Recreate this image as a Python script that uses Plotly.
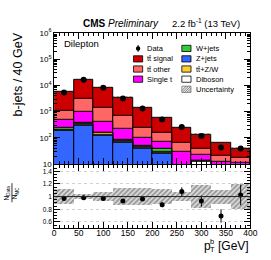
import numpy as np
import plotly.graph_objects as go

# ---------------- data ----------------
bin_centers = [20, 60, 100, 140, 180, 220, 260, 300, 340, 380]
bin_width = 40

zjets    = [178, 288, 124, 65, 39, 25, 4, 8, 3, 3]
diboson  = [10, 20, 8, 5, 3, 2, 1, 4, 1, 1]
ttv      = [5, 40, 22, 9, 5, 1, 2, 1, 1, 1]
wjets    = [45, 20, 6, 3, 2, 9, 1, 0.5, 0.5, 0.5]
single_t = [227, 592, 255, 136, 53, 34, 20, 9.5, 7, 6]
tt_other = [605, 1990, 995, 442, 148, 79, 34, 14, 7.5, 6]
tt_signal = [4430, 13550, 6890, 2740, 1100, 425, 178, 90, 42, 20.5]

data_counts = [5330, 16170, 8050, 3160, 1300, 500, 259, 118, 43, 39]
data_errors = [73, 127, 90, 56, 36, 22, 16, 11, 6.6, 6.2]
rel_unc = [0.12, 0.045, 0.075, 0.135, 0.135, 0.115, 0.075, 0.18, 0.11, 0.2]

# stack order bottom -> top
components = [
    ("Z+jets", zjets, "#3366ff"),
    ("Diboson", diboson, "#ffffff"),
    ("tt̄+Z/W", ttv, "#ffcc33"),
    ("W+jets", wjets, "#33cc33"),
    ("Single t", single_t, "#ff00ff"),
    ("tt̄ other", tt_other, "#ff6666"),
    ("tt̄ signal", tt_signal, "#cc0000"),
]

W, H = 271, 260
def px(x): return x / W
def py(y): return 1 - y / H

FONT = "Liberation Sans, Arial, Helvetica, sans-serif"

fig = go.Figure()

cum = np.cumsum(np.array([c[1] for c in components], dtype=float), axis=0)
total = cum[-1]

# draw cumulative bars, tallest first (overlay)
for i in range(len(components) - 1, -1, -1):
    name, vals, color = components[i]
    fig.add_trace(go.Bar(
        x=bin_centers, y=cum[i], width=bin_width,
        marker=dict(color=color, line=dict(color="black", width=1)),
        xaxis="x", yaxis="y", showlegend=False,
    ))

# uncertainty band on main panel
rel = np.array(rel_unc)
fig.add_trace(go.Bar(
    x=bin_centers, y=total * 2 * rel, base=total * (1 - rel), width=bin_width,
    marker=dict(color="rgba(0,0,0,0)", line=dict(width=0),
                pattern=dict(shape="/", fgcolor="#333333", bgcolor="rgba(0,0,0,0)",
                             size=3, solidity=0.4)),
    xaxis="x", yaxis="y", showlegend=False,
))

# data points
fig.add_trace(go.Scatter(
    x=bin_centers, y=data_counts, mode="markers",
    marker=dict(color="black", size=6),
    error_y=dict(type="data", array=data_errors, color="black", thickness=1, width=0),
    xaxis="x", yaxis="y", showlegend=False,
))

# ratio panel
d = np.array(data_counts, dtype=float)
ratio = d / total
ratio_err = np.array(data_errors) / total

fig.add_trace(go.Bar(
    x=bin_centers, y=2 * rel, base=1 - rel, width=bin_width,
    marker=dict(color="rgba(0,0,0,0)", line=dict(width=0),
                pattern=dict(shape="/", fgcolor="#333333", bgcolor="#e0e0e0",
                             size=3.5, solidity=0.45)),
    xaxis="x2", yaxis="y2", showlegend=False,
))
fig.add_trace(go.Scatter(
    x=bin_centers, y=ratio, mode="markers",
    marker=dict(color="black", size=5),
    error_y=dict(type="data", array=ratio_err, color="black", thickness=1, width=0),
    xaxis="x2", yaxis="y2", showlegend=False,
))

xdom = [px(54), px(257)]
main_ticks = [10, 100, 1000, 10000, 100000, 1000000]
main_ticktext = ["10", "10<sup>2</sup>", "10<sup>3</sup>", "10<sup>4</sup>", "10<sup>5</sup>", "10<sup>6</sup>"]
minor_vals = [k * 10 ** n for n in range(1, 6) for k in range(2, 10)]

common_axis = dict(showline=True, linecolor="black", linewidth=1, ticks="inside",
                   tickcolor="black", mirror="ticks", showgrid=False, zeroline=False)

fig.update_layout(
    width=W, height=H, margin=dict(l=0, r=0, t=0, b=0),
    paper_bgcolor="white", plot_bgcolor="white",
    barmode="overlay", bargap=0,
    font=dict(family=FONT, color="black"),
    xaxis=dict(domain=xdom, anchor="y", range=[0, 400], dtick=50, ticklen=6,
               showticklabels=False,
               minor=dict(dtick=10, ticklen=3, ticks="inside", tickcolor="black"),
               **common_axis),
    yaxis=dict(domain=[py(165), py(28)], anchor="x", type="log", range=[1, 6],
               tickmode="array", tickvals=main_ticks, ticktext=main_ticktext,
               ticklen=6, tickfont=dict(size=8),
               minor=dict(tickmode="array", tickvals=minor_vals, ticklen=3,
                          ticks="inside", tickcolor="black"),
               **common_axis),
    xaxis2=dict(domain=xdom, anchor="y2", range=[0, 400], dtick=50, ticklen=6,
                tickfont=dict(size=8.5), ticklabelstandoff=-3,
                minor=dict(dtick=10, ticklen=3, ticks="inside", tickcolor="black"),
                **common_axis),
    yaxis2=dict(domain=[py(232), py(166)], anchor="x2", range=[0.5, 1.5],
                tickmode="array", tickvals=[0.6, 0.8, 1, 1.2, 1.4],
                ticktext=["0.6", "0.8", "1", "1.2", "1.4"], ticklen=6,
                tickfont=dict(size=6.5),
                minor=dict(dtick=0.05, ticklen=3, ticks="inside", tickcolor="black"),
                showline=True, linecolor="black", linewidth=1, ticks="inside",
                tickcolor="black", mirror="ticks", zeroline=False,
                showgrid=True, gridcolor="#d0d0d0", griddash="dot", gridwidth=1),
)

shapes = []
# line at 1 in ratio
shapes.append(dict(type="line", xref="x2", yref="y2", x0=0, x1=400, y0=1, y1=1,
                   line=dict(color="#222222", width=1), layer="above"))

annotations = []
def text(x, y, s, size, xanchor="left", yanchor="middle", angle=0):
    annotations.append(dict(x=px(x), y=py(y), xref="paper", yref="paper", text=s,
                            showarrow=False, xanchor=xanchor, yanchor=yanchor,
                            textangle=angle, font=dict(size=size, family=FONT, color="black")))

text(82, 18, "<b>CMS</b> <i>Preliminary</i>", 10)
text(248, 18, "2.2 fb<sup>-1</sup> (13 TeV)", 9.5, xanchor="right")
text(62, 39.5, "Dilepton", 9.5)
text(17, 25, "b-jets / 40 GeV", 12.5, xanchor="center", yanchor="top", angle=-90)
# x-axis title: p_T^b [GeV]
text(257.5, 250.5, "[GeV]", 12, xanchor="right")
text(206.5, 250.5, "p", 12, xanchor="left")
text(213, 254.5, "T", 7.5, xanchor="left")
text(213, 245.5, "b", 7.5, xanchor="left")
text(10, 195, "N<sub>Data</sub><br>N<sub>MC</sub>", 6.5, xanchor="center", angle=-90)
shapes.append(dict(type="line", xref="paper", yref="paper", x0=px(10.3), x1=px(10.3),
                   y0=py(205), y1=py(185), line=dict(color="black", width=0.8)))

# legend
col1_box, col1_text = 136, 148
col2_box, col2_text = 186, 199
rows = [44.3, 55.2, 65.8, 76.4, 87.0]
bh = 6.5

def box(x, yc, color, border="black"):
    shapes.append(dict(type="rect", xref="paper", yref="paper",
                       x0=px(x), x1=px(x + 9.5), y0=py(yc + bh / 2), y1=py(yc - bh / 2),
                       fillcolor=color, line=dict(color=border, width=0.8)))

# Data marker
shapes.append(dict(type="line", xref="paper", yref="paper", x0=px(140.8), x1=px(140.8),
                   y0=py(rows[0] + 3.5), y1=py(rows[0] - 3.5), line=dict(color="black", width=1)))
shapes.append(dict(type="circle", xref="paper", yref="paper", x0=px(138.5), x1=px(143.1),
                   y0=py(rows[0] + 2.3), y1=py(rows[0] - 2.3), fillcolor="black",
                   line=dict(color="black", width=0)))
text(col1_text, rows[0], "Data", 7.5)
legend_col1 = [("tt̄ signal", "#cc0000"), ("tt̄ other", "#ff6666"), ("Single t", "#ff00ff")]
for i, (n, c) in enumerate(legend_col1):
    box(col1_box, rows[i + 1], c)
    text(col1_text, rows[i + 1], n, 7.5)
legend_col2 = [("W+jets", "#33cc33"), ("Z+jets", "#3366ff"), ("tt̄+Z/W", "#ffcc33"), ("Diboson", "#ffffff")]
for i, (n, c) in enumerate(legend_col2):
    box(col2_box, rows[i], c)
    text(col2_text, rows[i], n, 7.5)
# uncertainty legend hatched box
yc = rows[4]
box(col2_box, yc, "#eeeeee", border="#777777")
for k in range(5):
    xa = col2_box + k * 2.4 - 2
    x0, y0 = xa, yc + bh / 2
    x1, y1 = xa + bh, yc - bh / 2
    if x0 < col2_box:
        y0 -= (col2_box - x0); x0 = col2_box
    if x1 > col2_box + 9.5:
        y1 += (x1 - col2_box - 9.5); x1 = col2_box + 9.5
    shapes.append(dict(type="line", xref="paper", yref="paper", x0=px(x0), x1=px(x1),
                       y0=py(y0), y1=py(y1), line=dict(color="#555555", width=0.7)))
text(col2_text, yc, "Uncertainty", 7.5)

fig.update_layout(shapes=shapes, annotations=annotations)
fig.write_html("out.html", config={"displayModeBar": False},
               post_script="document.body.style.margin='0';document.body.style.padding='0';")
